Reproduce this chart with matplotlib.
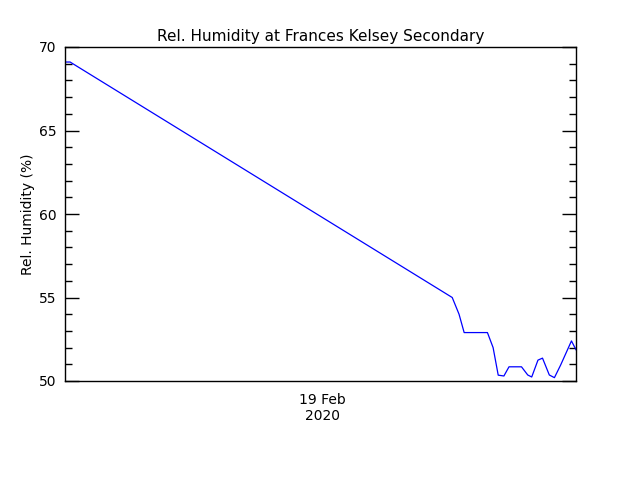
import matplotlib
matplotlib.use("Agg")
import matplotlib.pyplot as plt
from matplotlib.ticker import MultipleLocator

# hours since start of record
hours = [0.0, 0.9, 68.2, 69.4, 70.3, 74.4, 75.4, 76.3, 77.3, 78.2, 80.4,
         81.5, 82.2, 83.3, 84.1, 85.3, 86.2, 87.3, 89.2, 90.0]
humidity = [69.1, 69.1, 55.0, 54.0, 52.9, 52.9, 52.0, 50.35, 50.3, 50.85, 50.85,
            50.36, 50.24, 51.25, 51.37, 50.36, 50.2, 50.96, 52.4, 51.87]
tick_pos = [45.3]
tick_labels = ["19 Feb\n2020"]

fig = plt.figure(figsize=(6.4, 4.8), dpi=100)
ax = fig.add_axes([65/640, 1-381/480, (576-65)/640, (381-47)/480])
ax.plot(hours, humidity, color="#0000ff", linewidth=0.9)
ax.set_xlim(0, 90)
ax.set_ylim(50, 70)
ax.set_xticks(tick_pos)
ax.set_xticklabels(tick_labels, fontsize=10, linespacing=1.1)
ax.tick_params(axis="x", length=0, pad=9)
ax.yaxis.set_major_locator(MultipleLocator(5))
ax.yaxis.set_minor_locator(MultipleLocator(1))
ax.tick_params(axis="y", which="major", length=10, width=1, direction="in",
               left=True, right=True, labelsize=10, pad=6)
ax.tick_params(axis="y", which="minor", length=5, width=1, direction="in",
               left=True, right=True)
for lbl in ax.get_yticklabels():
    lbl.set_va("center_baseline")
for s in ax.spines.values():
    s.set_linewidth(1)
ax.set_ylabel("Rel. Humidity (%)", fontsize=10, labelpad=3)
ax.set_title("Rel. Humidity at Frances Kelsey Secondary", fontsize=11, pad=4)
fig.savefig("out.png", dpi=100)
